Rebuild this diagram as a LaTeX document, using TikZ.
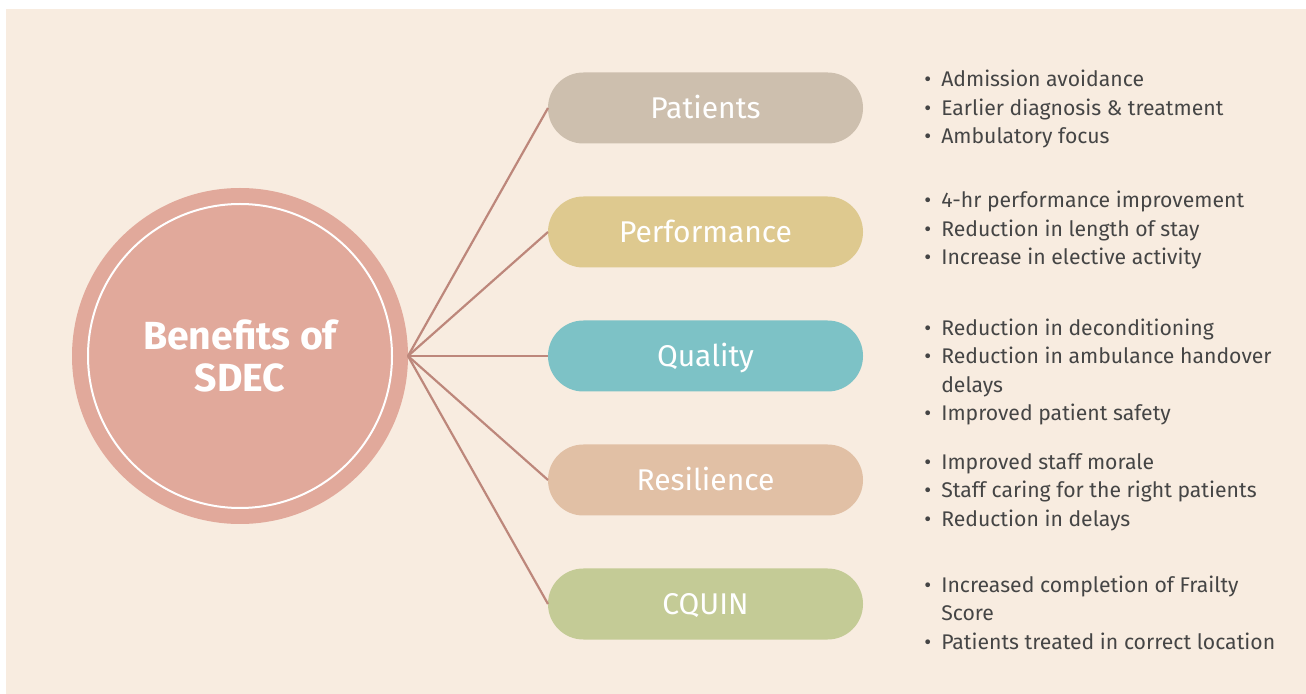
\documentclass[tikz,border=0pt]{standalone}
\usepackage{fontspec}
\setmainfont{Fira Sans}
\usetikzlibrary{positioning}

\definecolor{bgbeige}{HTML}{F8ECE0}
\definecolor{sdecpink}{HTML}{E1A99B}
\definecolor{linkbrown}{HTML}{BD877B}
\definecolor{patientsgrey}{HTML}{CDBFAE}
\definecolor{performancegold}{HTML}{DEC98F}
\definecolor{qualityteal}{HTML}{7DC2C6}
\definecolor{resiliencetan}{HTML}{E1C0A5}
\definecolor{cquingreen}{HTML}{C4CB96}
\definecolor{listgrey}{HTML}{454545}

\newcommand{\benefits}[1]{\begin{tabular}{@{}l@{\hspace{5pt}}l@{}}#1\end{tabular}}

\begin{document}
\begin{tikzpicture}[
  pill/.style={rectangle, rounded corners=17.7pt, minimum width=157.5pt, minimum height=35.5pt, inner sep=0pt, outer sep=0pt, text height=10.6pt, text depth=0pt, text=white, font=\fontsize{15}{18}\selectfont},
  benefitlist/.style={align=left, inner sep=0pt, text=listgrey, font=\fontsize{10.6}{14.25}\selectfont},
  link/.style={draw=linkbrown, line width=1.1pt}
]
\useasboundingbox (0pt,0pt) rectangle (653pt,-347pt);
\fill[bgbeige] (3pt,-4.5pt) rectangle (653pt,-347pt);

\node [circle, fill=sdecpink, minimum size=168pt, inner sep=0pt, outer sep=0pt] (sdec) at (120pt,-178pt) {};
\node [circle, draw=white, line width=1pt, minimum size=152pt, inner sep=0pt, align=center, text=white, font=\bfseries\fontsize{19.6}{21}\selectfont] (title) at (sdec) {Benefits of\\SDEC};

\node [pill, fill=qualityteal, right=70pt of sdec] (quality) {Quality};
\node [pill, fill=performancegold, above=26.5pt of quality] (performance) {Performance};
\node [pill, fill=patientsgrey, above=26.5pt of performance] (patients) {Patients};
\node [pill, fill=resiliencetan, below=26.5pt of quality] (resilience) {Resilience};
\node [pill, fill=cquingreen, below=26.5pt of resilience] (cquin) {CQUIN};

\draw [link] (sdec.east) -- (patients.west);
\draw [link] (sdec.east) -- (performance.west);
\draw [link] (sdec.east) -- (quality.west);
\draw [link] (sdec.east) -- (resilience.west);
\draw [link] (sdec.east) -- (cquin.west);

\node [benefitlist, right=30.5pt of patients, yshift=-0.9pt] (patientslist) {\benefits{%
  \textbullet & Admission avoidance\\
  \textbullet & Earlier diagnosis \& treatment\\
  \textbullet & Ambulatory focus}};
\node [benefitlist, right=30.5pt of performance, yshift=0.7pt] (performancelist) {\benefits{%
  \textbullet & 4-hr performance improvement\\
  \textbullet & Reduction in length of stay\\
  \textbullet & Increase in elective activity}};
\node [benefitlist, right=30.5pt of quality, yshift=-8.25pt] (qualitylist) {\benefits{%
  \textbullet & Reduction in deconditioning\\
  \textbullet & Reduction in ambulance handover\\
  & delays\\
  \textbullet & Improved patient safety}};
\node [benefitlist, right=30.5pt of resilience, yshift=-6pt] (resiliencelist) {\benefits{%
  \textbullet & Improved staff morale\\
  \textbullet & Staff caring for the right patients\\
  \textbullet & Reduction in delays}};
\node [benefitlist, right=30.5pt of cquin, yshift=-5.5pt] (cquinlist) {\benefits{%
  \textbullet & Increased completion of Frailty\\
  & Score\\
  \textbullet & Patients treated in correct location}};
\end{tikzpicture}
\end{document}
